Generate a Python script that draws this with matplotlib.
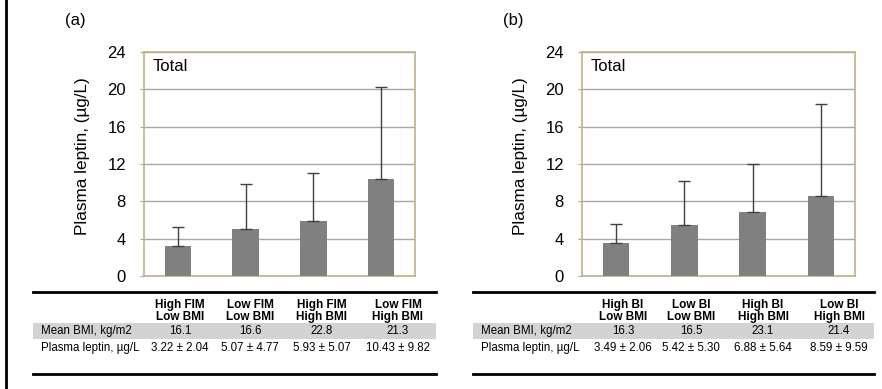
import numpy as np
import matplotlib.pyplot as plt
from matplotlib.lines import Line2D
from matplotlib.patches import Rectangle

plt.rcParams['font.family'] = ['Liberation Sans', 'DejaVu Sans']

# 데이터
groups_a = ['High FIM\nLow BMI', 'Low FIM\nLow BMI', 'High FIM\nHigh BMI', 'Low FIM\nHigh BMI']
bmi_a = [16.1, 16.6, 22.8, 21.3]
leptin_a = [3.22, 5.07, 5.93, 10.43]
sd_a = [2.04, 4.77, 5.07, 9.82]

groups_b = ['High BI\nLow BMI', 'Low BI\nLow BMI', 'High BI\nHigh BMI', 'Low BI\nHigh BMI']
bmi_b = [16.3, 16.5, 23.1, 21.4]
leptin_b = [3.49, 5.42, 6.88, 8.59]
sd_b = [2.06, 5.30, 5.64, 9.59]
# 그림 (b)의 error bar는 표와 다르게 그려져 있음
err_b = [2.04, 4.77, 5.07, 9.82]

W, H = 882, 389
fig = plt.figure(figsize=(W/100, H/100), dpi=100)

frame_c = '#bdb285'
grid_c = '#a6a6a6'
bar_c = '#808080'


def bar_panel(left_px, width_px, vals, errs, tag):
    ax = fig.add_axes([left_px/W, (H-276)/H, width_px/W, 224/H])
    x = np.arange(len(vals)) + 0.5
    ax.bar(x, vals, width=0.39, color=bar_c, zorder=3)
    ax.errorbar(x, vals, yerr=[np.zeros(len(errs)), errs], fmt='none',
                ecolor='#404040', elinewidth=1, capsize=4, capthick=1, zorder=4)
    ax.set_xlim(0, len(vals))
    ax.set_ylim(0, 24)
    ax.set_yticks(np.arange(0, 25, 4))
    ax.set_xticks([])
    ax.tick_params(axis='y', labelsize=12, length=3, color=grid_c, pad=10)
    ax.yaxis.grid(True, color=grid_c, linewidth=1, zorder=0)
    for s in ax.spines.values():
        s.set_color(frame_c)
        s.set_linewidth(1.2)
    ax.set_ylabel('Plasma leptin, (µg/L)', fontsize=12.3)
    ax.yaxis.set_label_coords(-54/width_px, 0.535)
    ax.text(0.03, 0.97, 'Total', transform=ax.transAxes, fontsize=12,
            va='top', ha='left')
    fig.text((left_px - 79)/W, (H-20)/H, tag, fontsize=12, va='center')
    return ax


bar_panel(144, 271, leptin_a, sd_a, '(a)')
bar_panel(582, 273, leptin_b, err_b, '(b)')

# 표 그리기 (픽셀 좌표 overlay)
ov = fig.add_axes([0, 0, 1, 1])
ov.set_xlim(0, W)
ov.set_ylim(H, 0)
ov.axis('off')

ov.add_line(Line2D([6, 6], [0, H], color='black', linewidth=2))


def table(x0, x1, cols, groups, bmi, lep, sd):
    ov.add_line(Line2D([x0, x1], [292, 292], color='black', linewidth=2))
    ov.add_line(Line2D([x0, x1], [374, 374], color='black', linewidth=2))
    ov.add_patch(Rectangle((x0, 323), x1-x0, 16, color='#d3d3d3', linewidth=0))
    ov.text(x0 + 8, 331, 'Mean BMI, kg/m2', fontsize=8.3, va='center', ha='left')
    ov.text(x0 + 8, 348, 'Plasma leptin, µg/L', fontsize=8.3, va='center', ha='left')
    for cx, g, b, m, s in zip(cols, groups, bmi, lep, sd):
        ov.text(cx, 311, g, fontsize=8.5, fontweight='bold', ha='center',
                va='center', linespacing=1.0)
        ov.text(cx, 331, f'{b:.1f}', fontsize=8.3, ha='center', va='center')
        ov.text(cx, 348, f'{m:.2f} ± {s:.2f}', fontsize=8.3, ha='center', va='center')


table(33, 436, [180, 250, 322, 398], groups_a, bmi_a, leptin_a, sd_a)
table(473, 874, [623, 691, 763, 839], groups_b, bmi_b, leptin_b, sd_b)

fig.savefig('out.png', dpi=100)
